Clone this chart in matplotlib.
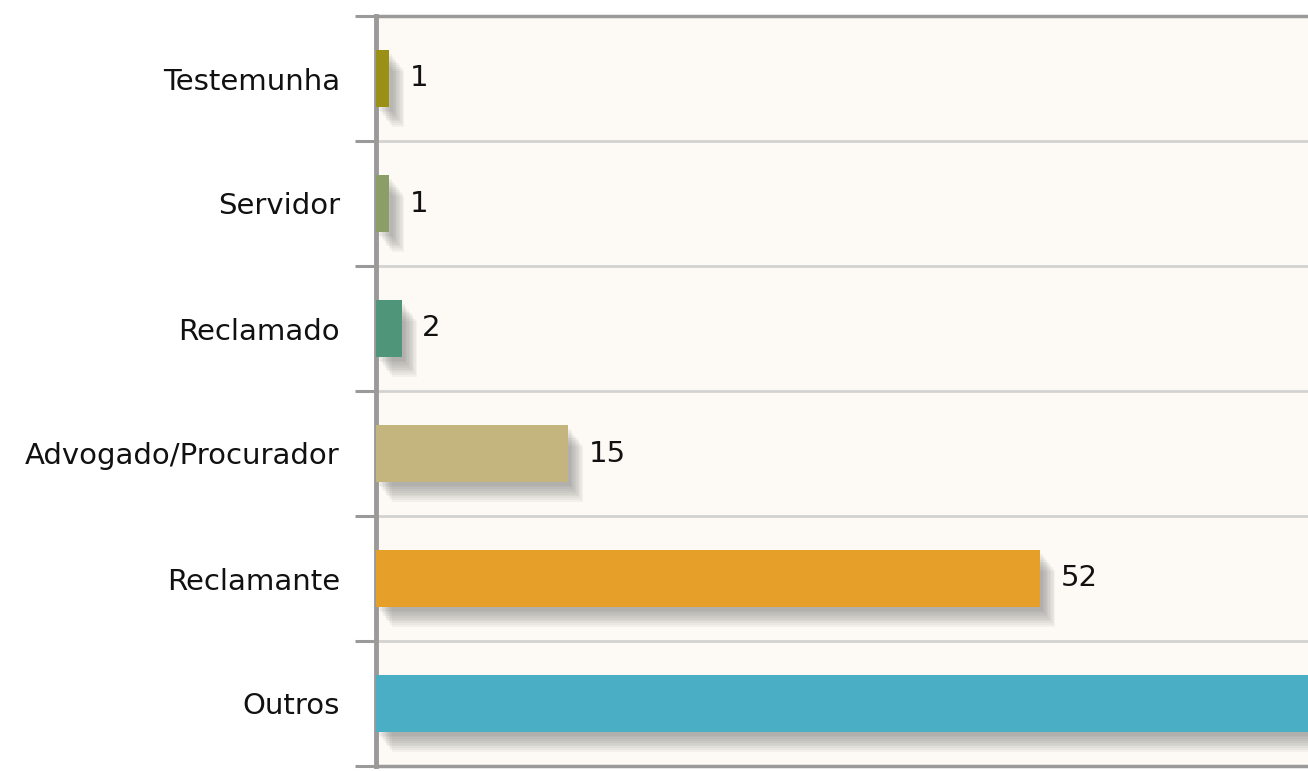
import numpy as np
import matplotlib
matplotlib.use("Agg")
import matplotlib.pyplot as plt
import matplotlib.transforms as mtransforms

# data (top to bottom)
categories = ["Testemunha", "Servidor", "Reclamado", "Advogado/Procurador", "Reclamante", "Outros"]
values = [1, 1, 2, 15, 52, 98]
colors = ["#9a9016", "#8c9e68", "#4f9579", "#c4b47e", "#e6a02a", "#4aafc4"]
show_label = [True, True, True, True, True, False]

plt.rcParams["font.family"] = ["DejaVu Sans"]

fig = plt.figure(figsize=(13.08, 7.71), dpi=100)
ax = fig.add_axes([376 / 1308, 5 / 771, 1 - 376 / 1308, 750 / 771])
ax.set_facecolor("#fdf9f4")

y = np.arange(len(categories))
bar_h = 0.45

# soft drop shadow: several offset, translucent copies
for k in range(10):
    off = mtransforms.offset_copy(ax.transData, fig=fig, x=3 + k * 1.4, y=-(4 + k * 1.8), units="dots")
    ax.barh(y, values, height=bar_h, left=0, color="#606060", alpha=0.06,
            transform=off, zorder=2, linewidth=0)

ax.barh(y, values, height=bar_h, color=colors, zorder=3, linewidth=0)

for yi, v, s in zip(y, values, show_label):
    if s:
        ax.annotate(str(v), xy=(v, yi), xytext=(15, 0), textcoords="offset points",
                    va="center", ha="left", fontsize=21, color="#111111", zorder=4)

ax.set_xlim(0, 73)
ax.set_ylim(len(categories) - 0.5, -0.5)

# category boundaries as grid + tick marks
bounds = np.arange(-0.5, len(categories) + 0.5, 1.0)
for b in bounds[1:-1]:
    ax.axhline(b, color="#d2d2d2", lw=2, zorder=1)

ax.set_yticks(y)
ax.set_yticklabels(categories, fontsize=21, color="#111111")
ax.tick_params(axis="y", which="major", length=0, pad=26)
ax.set_yticks(bounds, minor=True)
ax.tick_params(axis="y", which="minor", length=15, width=2.2, color="#9a9a9a")
ax.set_xticks([])

for side in ["left", "top", "bottom"]:
    ax.spines[side].set_color("#9a9a9a")
ax.spines["left"].set_linewidth(3.5)
ax.spines["top"].set_linewidth(2.5)
ax.spines["bottom"].set_linewidth(2.5)
ax.spines["right"].set_visible(False)

fig.savefig("out.png", dpi=100, facecolor="white")
